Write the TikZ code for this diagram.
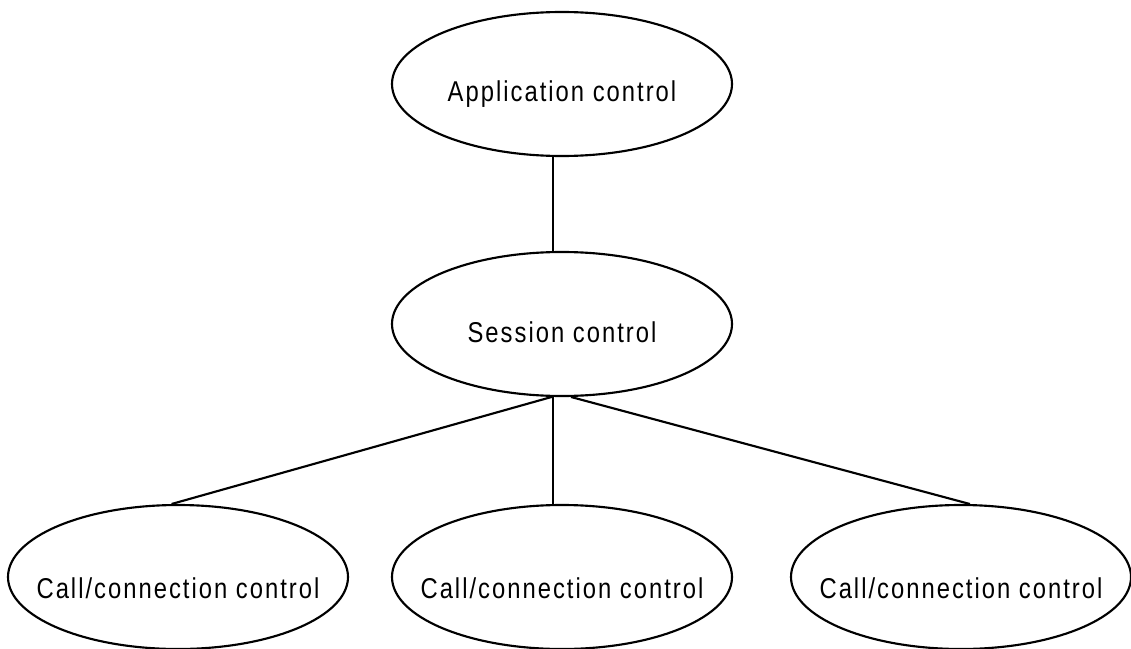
\documentclass[tikz,border=0pt]{standalone}
\usepackage{fontspec}
\usetikzlibrary{shapes.geometric}
\newfontfamily\labelfont[FakeStretch=0.83,LetterSpace=7]{Liberation Sans}
\begin{document}
\begin{tikzpicture}[x=0.75pt,y=-0.75pt,
  layer/.style={draw,line width=1.6pt,ellipse,minimum width=255pt,minimum height=108pt,inner sep=0pt},
  caption/.style={anchor=base,inner sep=0pt,font=\labelfont\fontsize{21.5pt}{25pt}\selectfont},
  link/.style={line width=1.6pt}]
\useasboundingbox (0,0) rectangle (1131,649);
% control layers
\node[layer] (app) at (562,84) {};
\node[layer] (sess) at (562,324) {};
\node[layer] (callA) at (178,577) {};
\node[layer] (callB) at (562,577) {};
\node[layer] (callC) at (961,577) {};
% labels
\node[caption] (appT) at (562,102) {Application control};
\node[caption] (sessT) at (562,342) {Session control};
\node[caption] (callAT) at (178,598) {Call/connection control};
\node[caption] (callBT) at (562,598) {Call/connection control};
\node[caption] (callCT) at (961,598) {Call/connection control};
% links
\draw[link] (app.263) -- (sess.97);
\draw[link] (sess.262) -- (callA.95);
\draw[link] (sess.263) -- (callB.97);
\draw[link] (sess.277) -- (callC.83);
\end{tikzpicture}
\end{document}
